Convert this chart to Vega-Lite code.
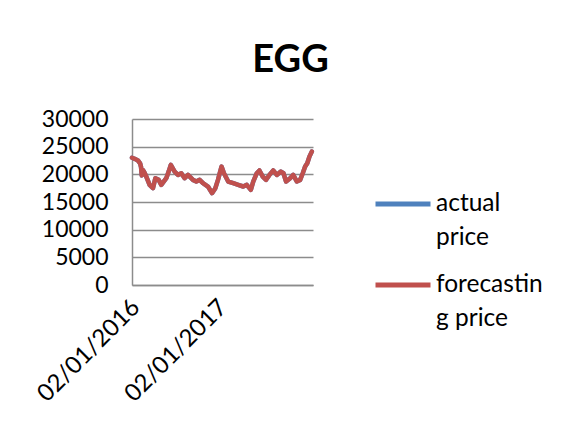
{
  "$schema": "https://vega.github.io/schema/vega-lite/v6.json",
  "width": 181,
  "height": 166,
  "autosize": "none",
  "padding": {"left": 132, "top": 119, "right": 253, "bottom": 145},
  "background": "white",
  "title": {"text": "EGG", "font": "Lato", "fontSize": 38, "fontWeight": "bold", "color": "#000000", "anchor": "middle", "frame": "group", "dx": 68, "offset": 28},
  "data": {"values": [
    {"date": "2016-01-01", "series": "actual price", "price": 23000},
    {"date": "2016-01-12", "series": "actual price", "price": 22800},
    {"date": "2016-01-26", "series": "actual price", "price": 22500},
    {"date": "2016-02-04", "series": "actual price", "price": 22000},
    {"date": "2016-02-08", "series": "actual price", "price": 21300},
    {"date": "2016-02-11", "series": "actual price", "price": 19800},
    {"date": "2016-02-15", "series": "actual price", "price": 20800},
    {"date": "2016-02-20", "series": "actual price", "price": 20500},
    {"date": "2016-03-01", "series": "actual price", "price": 19600},
    {"date": "2016-03-15", "series": "actual price", "price": 18100},
    {"date": "2016-03-29", "series": "actual price", "price": 17500},
    {"date": "2016-04-08", "series": "actual price", "price": 19300},
    {"date": "2016-04-22", "series": "actual price", "price": 19000},
    {"date": "2016-05-03", "series": "actual price", "price": 18100},
    {"date": "2016-05-24", "series": "actual price", "price": 19300},
    {"date": "2016-06-03", "series": "actual price", "price": 20500},
    {"date": "2016-06-12", "series": "actual price", "price": 21700},
    {"date": "2016-06-28", "series": "actual price", "price": 20500},
    {"date": "2016-07-12", "series": "actual price", "price": 19900},
    {"date": "2016-07-26", "series": "actual price", "price": 20200},
    {"date": "2016-08-09", "series": "actual price", "price": 19300},
    {"date": "2016-08-23", "series": "actual price", "price": 19900},
    {"date": "2016-09-13", "series": "actual price", "price": 19000},
    {"date": "2016-09-27", "series": "actual price", "price": 18700},
    {"date": "2016-10-11", "series": "actual price", "price": 19000},
    {"date": "2016-10-25", "series": "actual price", "price": 18400},
    {"date": "2016-11-15", "series": "actual price", "price": 17800},
    {"date": "2016-12-02", "series": "actual price", "price": 16600},
    {"date": "2016-12-16", "series": "actual price", "price": 17500},
    {"date": "2016-12-27", "series": "actual price", "price": 19000},
    {"date": "2017-01-11", "series": "actual price", "price": 21400},
    {"date": "2017-01-21", "series": "actual price", "price": 20200},
    {"date": "2017-02-08", "series": "actual price", "price": 18700},
    {"date": "2017-03-01", "series": "actual price", "price": 18400},
    {"date": "2017-03-22", "series": "actual price", "price": 18100},
    {"date": "2017-04-12", "series": "actual price", "price": 17800},
    {"date": "2017-04-27", "series": "actual price", "price": 18100},
    {"date": "2017-05-14", "series": "actual price", "price": 17200},
    {"date": "2017-05-24", "series": "actual price", "price": 18700},
    {"date": "2017-06-08", "series": "actual price", "price": 20200},
    {"date": "2017-06-19", "series": "actual price", "price": 20700},
    {"date": "2017-07-03", "series": "actual price", "price": 19600},
    {"date": "2017-07-17", "series": "actual price", "price": 19000},
    {"date": "2017-07-31", "series": "actual price", "price": 19900},
    {"date": "2017-08-16", "series": "actual price", "price": 20700},
    {"date": "2017-08-31", "series": "actual price", "price": 19900},
    {"date": "2017-09-17", "series": "actual price", "price": 20500},
    {"date": "2017-09-28", "series": "actual price", "price": 20200},
    {"date": "2017-10-09", "series": "actual price", "price": 18700},
    {"date": "2017-10-26", "series": "actual price", "price": 19300},
    {"date": "2017-11-08", "series": "actual price", "price": 19900},
    {"date": "2017-11-23", "series": "actual price", "price": 18700},
    {"date": "2017-12-07", "series": "actual price", "price": 19000},
    {"date": "2017-12-18", "series": "actual price", "price": 20200},
    {"date": "2017-12-28", "series": "actual price", "price": 21400},
    {"date": "2018-01-06", "series": "actual price", "price": 22000},
    {"date": "2018-01-15", "series": "actual price", "price": 23200},
    {"date": "2018-01-25", "series": "actual price", "price": 24100},
    {"date": "2016-01-01", "series": "forecasting price", "price": 23000},
    {"date": "2016-01-12", "series": "forecasting price", "price": 22800},
    {"date": "2016-01-26", "series": "forecasting price", "price": 22500},
    {"date": "2016-02-04", "series": "forecasting price", "price": 22000},
    {"date": "2016-02-08", "series": "forecasting price", "price": 21300},
    {"date": "2016-02-11", "series": "forecasting price", "price": 19800},
    {"date": "2016-02-15", "series": "forecasting price", "price": 20800},
    {"date": "2016-02-20", "series": "forecasting price", "price": 20500},
    {"date": "2016-03-01", "series": "forecasting price", "price": 19600},
    {"date": "2016-03-15", "series": "forecasting price", "price": 18100},
    {"date": "2016-03-29", "series": "forecasting price", "price": 17500},
    {"date": "2016-04-08", "series": "forecasting price", "price": 19300},
    {"date": "2016-04-22", "series": "forecasting price", "price": 19000},
    {"date": "2016-05-03", "series": "forecasting price", "price": 18100},
    {"date": "2016-05-24", "series": "forecasting price", "price": 19300},
    {"date": "2016-06-03", "series": "forecasting price", "price": 20500},
    {"date": "2016-06-12", "series": "forecasting price", "price": 21700},
    {"date": "2016-06-28", "series": "forecasting price", "price": 20500},
    {"date": "2016-07-12", "series": "forecasting price", "price": 19900},
    {"date": "2016-07-26", "series": "forecasting price", "price": 20200},
    {"date": "2016-08-09", "series": "forecasting price", "price": 19300},
    {"date": "2016-08-23", "series": "forecasting price", "price": 19900},
    {"date": "2016-09-13", "series": "forecasting price", "price": 19000},
    {"date": "2016-09-27", "series": "forecasting price", "price": 18700},
    {"date": "2016-10-11", "series": "forecasting price", "price": 19000},
    {"date": "2016-10-25", "series": "forecasting price", "price": 18400},
    {"date": "2016-11-15", "series": "forecasting price", "price": 17800},
    {"date": "2016-12-02", "series": "forecasting price", "price": 16600},
    {"date": "2016-12-16", "series": "forecasting price", "price": 17500},
    {"date": "2016-12-27", "series": "forecasting price", "price": 19000},
    {"date": "2017-01-11", "series": "forecasting price", "price": 21400},
    {"date": "2017-01-21", "series": "forecasting price", "price": 20200},
    {"date": "2017-02-08", "series": "forecasting price", "price": 18700},
    {"date": "2017-03-01", "series": "forecasting price", "price": 18400},
    {"date": "2017-03-22", "series": "forecasting price", "price": 18100},
    {"date": "2017-04-12", "series": "forecasting price", "price": 17800},
    {"date": "2017-04-27", "series": "forecasting price", "price": 18100},
    {"date": "2017-05-14", "series": "forecasting price", "price": 17200},
    {"date": "2017-05-24", "series": "forecasting price", "price": 18700},
    {"date": "2017-06-08", "series": "forecasting price", "price": 20200},
    {"date": "2017-06-19", "series": "forecasting price", "price": 20700},
    {"date": "2017-07-03", "series": "forecasting price", "price": 19600},
    {"date": "2017-07-17", "series": "forecasting price", "price": 19000},
    {"date": "2017-07-31", "series": "forecasting price", "price": 19900},
    {"date": "2017-08-16", "series": "forecasting price", "price": 20700},
    {"date": "2017-08-31", "series": "forecasting price", "price": 19900},
    {"date": "2017-09-17", "series": "forecasting price", "price": 20500},
    {"date": "2017-09-28", "series": "forecasting price", "price": 20200},
    {"date": "2017-10-09", "series": "forecasting price", "price": 18700},
    {"date": "2017-10-26", "series": "forecasting price", "price": 19300},
    {"date": "2017-11-08", "series": "forecasting price", "price": 19900},
    {"date": "2017-11-23", "series": "forecasting price", "price": 18700},
    {"date": "2017-12-07", "series": "forecasting price", "price": 19000},
    {"date": "2017-12-18", "series": "forecasting price", "price": 20200},
    {"date": "2017-12-28", "series": "forecasting price", "price": 21400},
    {"date": "2018-01-06", "series": "forecasting price", "price": 22000},
    {"date": "2018-01-15", "series": "forecasting price", "price": 23200},
    {"date": "2018-01-25", "series": "forecasting price", "price": 24100}
  ]},
  "mark": {"type": "line", "strokeWidth": 4.5, "strokeCap": "round", "strokeJoin": "round"},
  "encoding": {
    "x": {
      "field": "date", "type": "temporal",
      "scale": {"type": "utc", "nice": false, "domain": [{"year": 2016, "month": 1, "date": 1, "utc": true}, {"year": 2018, "month": 1, "date": 30, "utc": true}]},
      "axis": {"title": null, "values": [{"year": 2016, "month": 1, "date": 2, "utc": true}, {"year": 2017, "month": 1, "date": 2, "utc": true}], "format": "%d/%m/%Y", "labelAngle": -45, "grid": false, "ticks": false, "domainColor": "#8c8c8c", "domainWidth": 1.5, "labelFont": "Lato", "labelFontSize": 24, "labelColor": "#000000", "labelPadding": 10, "labelOffset": -5, "labelOverlap": false, "labelFlush": false, "labelBound": false}
    },
    "y": {
      "field": "price", "type": "quantitative",
      "scale": {"domain": [0, 30000], "nice": false},
      "axis": {"title": null, "values": [0, 5000, 10000, 15000, 20000, 25000, 30000], "format": "d", "grid": true, "gridColor": "#8c8c8c", "gridWidth": 1.5, "ticks": false, "domainColor": "#8c8c8c", "domainWidth": 1.5, "labelFont": "Lato", "labelFontSize": 23, "labelColor": "#000000", "labelPadding": 24, "labelOverlap": false, "labelFlush": false}
    },
    "color": {
      "field": "series", "type": "nominal",
      "scale": {"domain": ["actual price", "forecasting price"], "range": ["#4F81BD", "#C0504D"]},
      "legend": {"title": null, "orient": "none", "legendX": 241, "legendY": 55, "symbolType": "stroke", "symbolSize": 3025, "symbolStrokeWidth": 5, "labelFont": "Lato", "labelFontSize": 24.5, "labelColor": "#000000", "labelOffset": 3, "labelBaseline": "middle", "rowPadding": 5, "labelLimit": 300, "labelExpr": "datum.label == 'actual price' ? ['actual', 'price'] : ['forecastin', 'g price']"}
    }
  },
  "config": {
    "view": {"stroke": null},
    "style": {"guide-label": {"lineHeight": 34}}
  }
}
